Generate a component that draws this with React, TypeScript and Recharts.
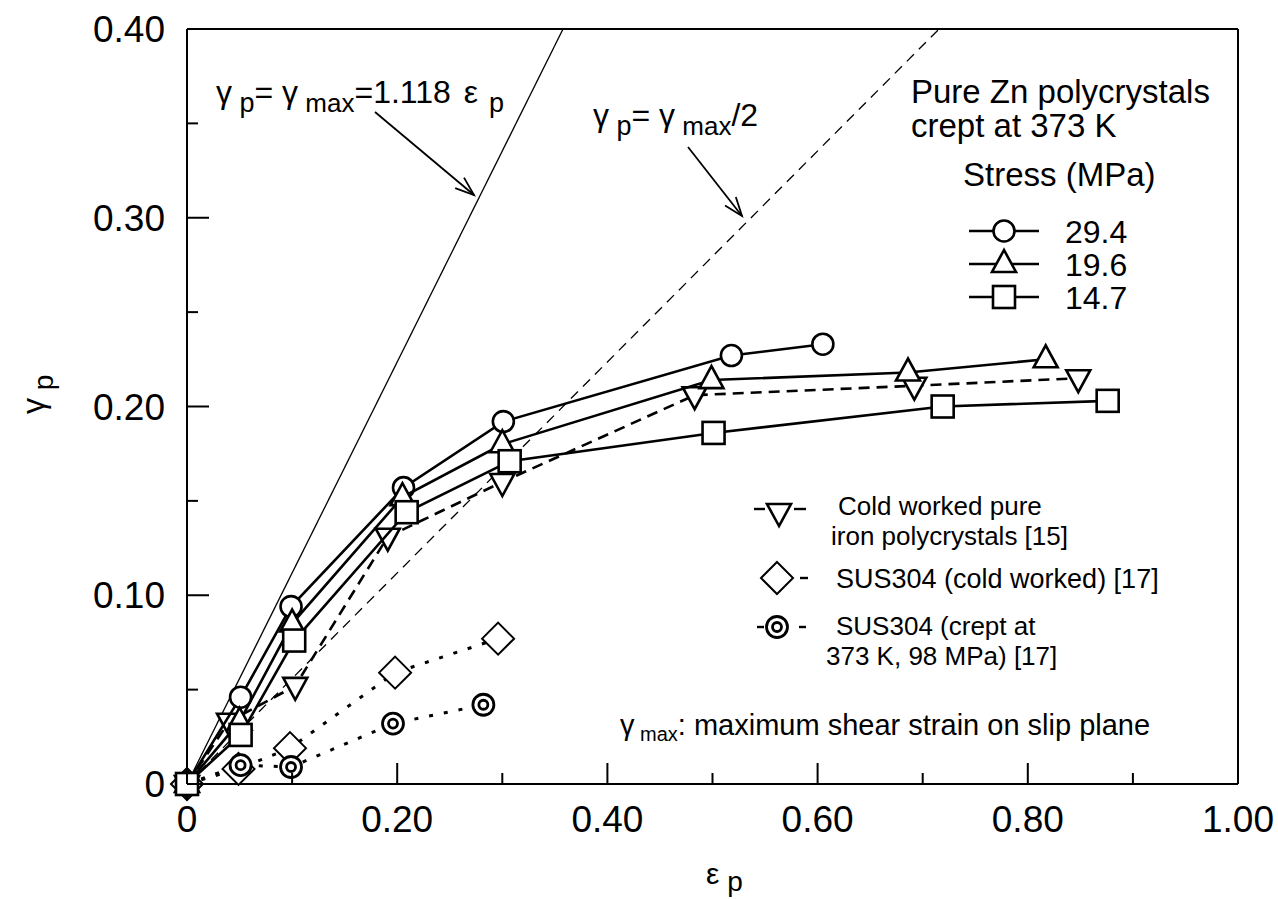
import React from "react";
import { ComposedChart, Scatter, XAxis, YAxis, ReferenceLine } from "recharts";

// εp (x) and γp (y) for each series
const zn294X = [0, 0.051, 0.099, 0.206, 0.301, 0.518, 0.605];
const zn294Y = [0, 0.046, 0.094, 0.157, 0.192, 0.227, 0.233];
const zn196X = [0, 0.05, 0.1, 0.205, 0.3, 0.499, 0.686, 0.817];
const zn196Y = [0, 0.033, 0.085, 0.152, 0.18, 0.214, 0.218, 0.225];
const zn147X = [0, 0.051, 0.102, 0.209, 0.307, 0.501, 0.719, 0.876];
const zn147Y = [0, 0.026, 0.076, 0.144, 0.171, 0.186, 0.2, 0.203];
const ironX = [0, 0.04, 0.103, 0.191, 0.3, 0.483, 0.692, 0.848];
const ironY = [0, 0.033, 0.052, 0.131, 0.16, 0.206, 0.211, 0.215];
const susColdX = [0, 0.049, 0.098, 0.198, 0.296];
const susColdY = [0, 0.008, 0.019, 0.059, 0.077];
const susCreepX = [0, 0.051, 0.099, 0.196, 0.282];
const susCreepY = [0, 0.01, 0.009, 0.032, 0.042];

// γp = γmax = 1.118 εp  and  γp = γmax / 2
const slopeMax = 1.118;
const slopeHalf = slopeMax / 2;

const xTicks = [0, 0.1, 0.2, 0.3, 0.4, 0.5, 0.6, 0.7, 0.8, 0.9, 1.0];
const xMajor = [0, 0.2, 0.4, 0.6, 0.8, 1.0];
const xLabels = ["0", "0.20", "0.40", "0.60", "0.80", "1.00"];
const yTicks = [0, 0.05, 0.1, 0.15, 0.2, 0.25, 0.3, 0.35, 0.4];
const yMajor = [0, 0.1, 0.2, 0.3, 0.4];
const yLabels = ["0", "0.10", "0.20", "0.30", "0.40"];

const stressLabels = ["29.4", "19.6", "14.7"];

const font = "'Liberation Sans', Arial, Helvetica, sans-serif";
const W = 1278;
const H = 899;

const pts = (xs: number[], ys: number[]) => xs.map((x, i) => ({ x, y: ys[i] }));

type Kind = "circle" | "tri" | "square" | "triDown" | "diamond" | "bull";

function marker(kind: Kind, cx: number, cy: number) {
  const s = { stroke: "#000", strokeWidth: 2.6, fill: "#fff" };
  switch (kind) {
    case "circle":
      return <circle cx={cx} cy={cy} r={10.5} {...s} />;
    case "tri":
      return <polygon points={`${cx},${cy - 14} ${cx - 12},${cy + 8} ${cx + 12},${cy + 8}`} {...s} />;
    case "triDown":
      return <polygon points={`${cx},${cy + 14} ${cx - 12},${cy - 8} ${cx + 12},${cy - 8}`} {...s} />;
    case "square":
      return <rect x={cx - 11} y={cy - 11} width={22} height={22} {...s} />;
    case "diamond":
      return <polygon points={`${cx},${cy - 16} ${cx + 16},${cy} ${cx},${cy + 16} ${cx - 16},${cy}`} {...{ ...s, strokeWidth: 2 }} />;
    case "bull":
      return (
        <g>
          <circle cx={cx} cy={cy} r={10.5} {...s} strokeWidth={2.8} />
          <circle cx={cx} cy={cy} r={4.5} {...s} strokeWidth={2.8} />
        </g>
      );
  }
}

const shapeOf = (kind: Kind) => (p: any) => <g>{marker(kind, p.cx, p.cy)}</g>;

const XTick = (props: any) => {
  const { x, y, payload } = props;
  const i = xMajor.indexOf(payload.value);
  return (
    <g>
      <line x1={x} x2={x} y1={y} y2={y - (i >= 0 ? 21 : 11)} stroke="#000" strokeWidth={2} />
      {i >= 0 && (
        <text x={x} y={y + 48} textAnchor="middle" fontSize={37} fontFamily={font}>
          {xLabels[i]}
        </text>
      )}
    </g>
  );
};

const YTick = (props: any) => {
  const { x, y, payload } = props;
  const i = yMajor.indexOf(payload.value);
  return (
    <g>
      <line x1={x} x2={x + (i >= 0 ? 22 : 11)} y1={y} y2={y} stroke="#000" strokeWidth={2} />
      {i >= 0 && (
        <text x={x - 22} y={y + 13} textAnchor="end" fontSize={37} fontFamily={font}>
          {yLabels[i]}
        </text>
      )}
    </g>
  );
};

function Arrow({ x1, y1, x2, y2 }: { x1: number; y1: number; x2: number; y2: number }) {
  const a = Math.atan2(y2 - y1, x2 - x1);
  const len = 20;
  const spread = 0.35;
  const h1 = [x2 - len * Math.cos(a - spread), y2 - len * Math.sin(a - spread)];
  const h2 = [x2 - len * Math.cos(a + spread), y2 - len * Math.sin(a + spread)];
  return (
    <g stroke="#000" strokeWidth={1.8} fill="none">
      <line x1={x1} y1={y1} x2={x2} y2={y2} />
      <polyline points={`${h1[0]},${h1[1]} ${x2},${y2} ${h2[0]},${h2[1]}`} />
    </g>
  );
}

function Overlay() {
  const t = { fontFamily: font, fill: "#000" };
  return (
    <svg width={W} height={H} style={{ position: "absolute", left: 0, top: 0, pointerEvents: "none" }}>
      {/* axis titles */}
      <text transform="translate(44,414) rotate(-90)" fontSize={32} {...t}>
        γ<tspan dy={9} fontSize={28}> p</tspan>
      </text>
      <text x={706} y={884} fontSize={30} {...t}>
        ε<tspan dy={7} fontSize={28}> p</tspan>
      </text>

      {/* reference line annotations */}
      <text x={216} y={103} fontSize={32} {...t}>
        γ<tspan dy={9} fontSize={27}> p</tspan>
        <tspan dy={-9}>= γ</tspan>
        <tspan dy={9} fontSize={26}> max</tspan>
        <tspan dy={-9}>=1.118</tspan>
        <tspan dx={13}>ε</tspan>
        <tspan dy={9} dx={11} fontSize={27}>p</tspan>
      </text>
      <Arrow x1={375} y1={112} x2={474} y2={195} />
      <text x={593} y={126} fontSize={32} {...t}>
        γ<tspan dy={9} fontSize={27}> p</tspan>
        <tspan dy={-9}>= γ</tspan>
        <tspan dy={9} fontSize={26}> max</tspan>
        <tspan dy={-9}>/2</tspan>
      </text>
      <Arrow x1={688} y1={147} x2={742} y2={216} />

      {/* stress legend */}
      <text x={911} y={103} fontSize={33} {...t}>Pure Zn polycrystals</text>
      <text x={911} y={137} fontSize={33} {...t}>crept at 373 K</text>
      <text x={963} y={186} fontSize={33} {...t}>Stress (MPa)</text>
      {(["circle", "tri", "square"] as Kind[]).map((k, i) => {
        const cy = 231 + i * 33;
        return (
          <g key={k}>
            <line x1={969} x2={1039} y1={cy} y2={cy} stroke="#000" strokeWidth={2.6} />
            {marker(k, 1004, cy)}
            <text x={1065} y={cy + 12} fontSize={32} {...t}>{stressLabels[i]}</text>
          </g>
        );
      })}

      {/* other materials legend */}
      <line x1={754} x2={765} y1={509} y2={509} stroke="#000" strokeWidth={2.4} />
      <line x1={794} x2={806} y1={509} y2={509} stroke="#000" strokeWidth={2.4} />
      {marker("triDown", 779, 512)}
      <text x={838} y={515} fontSize={26} {...t}>Cold worked pure</text>
      <text x={831} y={545} fontSize={26} {...t}>iron polycrystals [15]</text>

      {marker("diamond", 777, 578)}
      <line x1={800} x2={808} y1={578} y2={578} stroke="#000" strokeWidth={2.4} />
      <text x={836} y={588} fontSize={27} {...t}>SUS304 (cold worked) [17]</text>

      <line x1={757} x2={764} y1={627} y2={627} stroke="#000" strokeWidth={2.4} />
      {marker("bull", 777, 627)}
      <line x1={799} x2={806} y1={627} y2={627} stroke="#000" strokeWidth={2.4} />
      <text x={836} y={635} fontSize={26} {...t}>SUS304 (crept at</text>
      <text x={826} y={665} fontSize={26} {...t}>373 K, 98 MPa) [17]</text>

      <text x={620} y={735} fontSize={29} {...t}>
        γ<tspan dy={6} fontSize={20}> max</tspan>
        <tspan dy={-6}>: maximum shear strain on slip plane</tspan>
      </text>
    </svg>
  );
}

export default function App() {
  const solid = { stroke: "#000", strokeWidth: 2.6 };
  return (
    <div style={{ position: "absolute", left: 0, top: 0, width: W, height: H, background: "#fff" }}>
      <ComposedChart width={W} height={H} margin={{ top: 29, right: 40, left: 0, bottom: 0 }}>
        <XAxis
          type="number"
          dataKey="x"
          domain={[0, 1]}
          ticks={xTicks}
          interval={0}
          height={115}
          tickSize={0}
          tickMargin={0}
          tickLine={false}
          tick={(p: any) => <XTick {...p} />}
          axisLine={{ stroke: "#000", strokeWidth: 2 }}
        />
        <YAxis
          type="number"
          dataKey="y"
          domain={[0, 0.4]}
          ticks={yTicks}
          interval={0}
          width={187}
          tickSize={0}
          tickMargin={0}
          tickLine={false}
          tick={(p: any) => <YTick {...p} />}
          axisLine={{ stroke: "#000", strokeWidth: 2 }}
        />
        <ReferenceLine y={0.4} stroke="#000" strokeWidth={2} />
        <ReferenceLine x={1} stroke="#000" strokeWidth={2} />
        <ReferenceLine
          segment={[{ x: 0, y: 0 }, { x: 0.4 / slopeMax, y: 0.4 }]}
          stroke="#000"
          strokeWidth={1.3}
        />
        <ReferenceLine
          segment={[{ x: 0, y: 0 }, { x: 0.4 / slopeHalf, y: 0.4 }]}
          stroke="#000"
          strokeWidth={1.3}
          strokeDasharray="10 7"
        />
        <Scatter
          data={pts(susColdX, susColdY)}
          line={{ stroke: "#000", strokeWidth: 3, strokeDasharray: "4 11" }}
          lineType="joint"
          shape={shapeOf("diamond")}
          isAnimationActive={false}
        />
        <Scatter
          data={pts(susCreepX, susCreepY)}
          line={{ stroke: "#000", strokeWidth: 3, strokeDasharray: "4 11" }}
          lineType="joint"
          shape={shapeOf("bull")}
          isAnimationActive={false}
        />
        <Scatter
          data={pts(ironX, ironY)}
          line={{ stroke: "#000", strokeWidth: 2.6, strokeDasharray: "11 7" }}
          lineType="joint"
          shape={shapeOf("triDown")}
          isAnimationActive={false}
        />
        <Scatter data={pts(zn294X, zn294Y)} line={solid} lineType="joint" shape={shapeOf("circle")} isAnimationActive={false} />
        <Scatter data={pts(zn196X, zn196Y)} line={solid} lineType="joint" shape={shapeOf("tri")} isAnimationActive={false} />
        <Scatter data={pts(zn147X, zn147Y)} line={solid} lineType="joint" shape={shapeOf("square")} isAnimationActive={false} />
      </ComposedChart>
      <Overlay />
    </div>
  );
}
